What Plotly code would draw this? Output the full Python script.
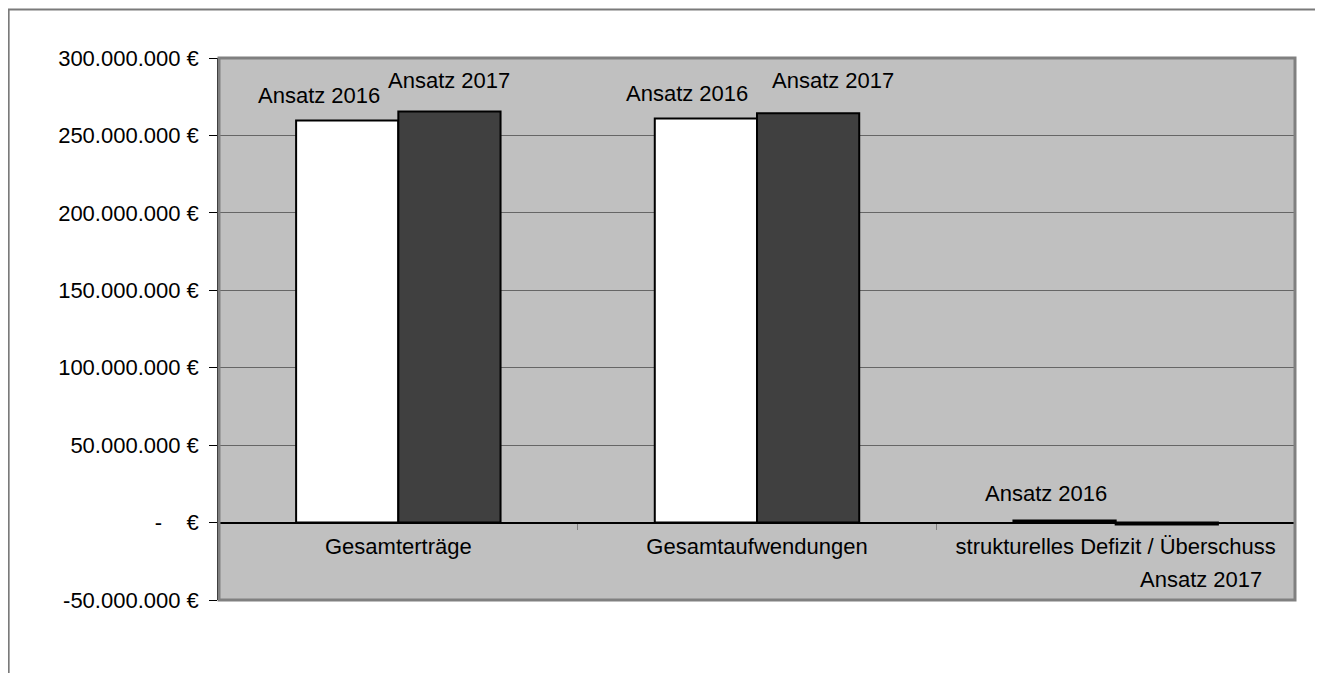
import plotly.graph_objects as go

# Haushalt: Ansatz 2016 vs. Ansatz 2017
kategorien = ["Gesamterträge", "Gesamtaufwendungen", "strukturelles Defizit / Überschuss"]
ansatz_2016 = [259_700_000, 261_000_000, 1_400_000]
ansatz_2017 = [265_500_000, 264_300_000, -1_300_000]
serien = ["Ansatz 2016", "Ansatz 2017"]

y_ticks = [-50_000_000, 0, 50_000_000, 100_000_000, 150_000_000,
           200_000_000, 250_000_000, 300_000_000]
y_ticktext = ["-50.000.000 €", "-\u00a0\u00a0\u00a0\u00a0€", "50.000.000 €", "100.000.000 €",
              "150.000.000 €", "200.000.000 €", "250.000.000 €", "300.000.000 €"]

FONT = "Liberation Sans, Arial, sans-serif"
FS = 22

fig = go.Figure()
fig.add_trace(go.Bar(x=kategorien, y=ansatz_2016, name=serien[0],
                     marker=dict(color="white", line=dict(color="black", width=2))))
fig.add_trace(go.Bar(x=kategorien, y=ansatz_2017, name=serien[1],
                     marker=dict(color="#404040", line=dict(color="black", width=2))))

# Datenbeschriftungen (wie im Original leicht verschoben)
bar_off = 51
shifts_2016 = [(-28, 25), (-19, 25), (-19, 27)]
shifts_2017 = [(0, 31), (25, 33), (34, -55)]
for i, kat in enumerate(kategorien):
    dx, dy = shifts_2016[i]
    fig.add_annotation(x=kat, y=ansatz_2016[i], text=serien[0], showarrow=False,
                       xshift=-bar_off + dx, yshift=dy, font=dict(size=FS, color="black"))
    dx, dy = shifts_2017[i]
    fig.add_annotation(x=kat, y=ansatz_2017[i], text=serien[1], showarrow=False,
                       xshift=bar_off + dx, yshift=dy, font=dict(size=FS, color="black"))

# Rahmen des Diagrammbereichs und Zeichnungsfläche
fig.add_shape(type="rect", xref="paper", yref="paper", x0=-0.1955, x1=1.0255,
              y0=-0.2, y1=1.0895, line=dict(color="#7a7a7a", width=2), layer="below")
fig.add_shape(type="rect", xref="paper", yref="paper", x0=0, x1=1, y0=0, y1=1,
              line=dict(color="#808080", width=3), layer="above")

fig.update_xaxes(anchor="free", position=50 / 350, showline=True, linecolor="black",
                 linewidth=1, ticks="outside", tickson="boundaries", ticklen=6,
                 tickcolor="#808080", ticklabelstandoff=4,
                 tickfont=dict(size=FS, color="black"), showgrid=False)
fig.update_yaxes(range=[-50_000_000, 300_000_000], tickvals=y_ticks, ticktext=y_ticktext,
                 showline=True, linecolor="black", linewidth=1.5, ticks="outside",
                 ticklen=8, tickcolor="black", ticklabelstandoff=6,
                 tickfont=dict(size=FS, color="black"), showgrid=True,
                 gridcolor="#666666", gridwidth=1, zeroline=True, zerolinecolor="black",
                 zerolinewidth=1)
fig.update_layout(
    width=1315, height=665,
    margin=dict(l=211, r=28, t=50, b=73),
    plot_bgcolor="#C0C0C0", paper_bgcolor="white",
    font=dict(family=FONT, size=FS, color="black"),
    barmode="group", bargap=0.43, bargroupgap=0,
    showlegend=False,
)
fig.write_html("out.html")
